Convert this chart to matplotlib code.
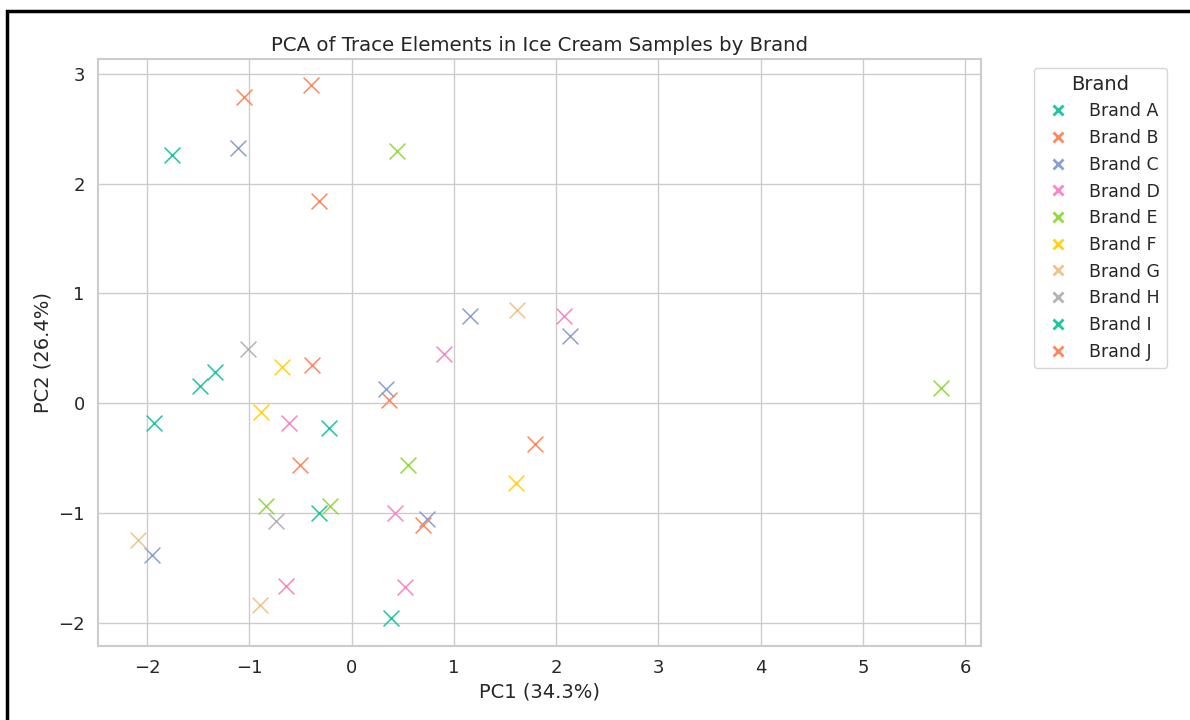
import matplotlib
matplotlib.use("Agg")
import matplotlib.pyplot as plt
import seaborn as sns
from matplotlib.patches import Rectangle

sns.set_theme(style="whitegrid")
plt.rcParams["font.family"] = ["DejaVu Sans"]

brands = ["Brand A", "Brand B", "Brand C", "Brand D", "Brand E",
          "Brand F", "Brand G", "Brand H", "Brand I", "Brand J"]

pc1 = {
    "Brand A": [-1.76, -1.34, -0.22, 0.39],
    "Brand B": [-1.05, -0.32, 0.37, 1.79],
    "Brand C": [-1.11, 1.16, 2.14, 0.34, 0.74, -1.95],
    "Brand D": [0.90, 2.08, -0.61, 0.42, -0.64, 0.52],
    "Brand E": [0.44, 5.76, 0.55, -0.84, -0.21],
    "Brand F": [-0.68, -0.89, 1.61],
    "Brand G": [1.62, -2.09, -0.90],
    "Brand H": [-1.01, -0.74],
    "Brand I": [-1.48, -1.93, -0.32],
    "Brand J": [-0.40, -0.39, -0.50, 0.70],
}
pc2 = {
    "Brand A": [2.26, 0.285, -0.23, -1.96],
    "Brand B": [2.79, 1.84, 0.03, -0.37],
    "Brand C": [2.32, 0.79, 0.61, 0.13, -1.06, -1.385],
    "Brand D": [0.45, 0.79, -0.18, -1.00, -1.67, -1.68],
    "Brand E": [2.30, 0.14, -0.56, -0.94, -0.935],
    "Brand F": [0.33, -0.08, -0.73],
    "Brand G": [0.85, -1.25, -1.84],
    "Brand H": [0.49, -1.07],
    "Brand I": [0.155, -0.18, -1.00],
    "Brand J": [2.90, 0.35, -0.565, -1.11],
}

base = ["#1fc4a0", "#ff875c", "#8a9fd4", "#fb84c6", "#94d940",
        "#ffd21c", "#eec48c", "#b3b3b3"]
colors = [base[i % len(base)] for i in range(len(brands))]

fig = plt.figure(figsize=(11.9, 7.2), dpi=100)
ax = fig.add_axes([0.0824, 0.1028, 0.742, 0.815])

for b, c in zip(brands, colors):
    ax.scatter(pc1[b], pc2[b], marker="x", s=130, color=c, linewidths=1.1, label=b)

ax.set_xlim(-2.48, 6.156)
ax.set_ylim(-2.213, 3.133)
ax.set_title("PCA of Trace Elements in Ice Cream Samples by Brand", fontsize=14.2)
ax.set_xlabel("PC1 (34.3%)", fontsize=14)
ax.set_ylabel("PC2 (26.4%)", fontsize=14)
ax.tick_params(labelsize=13)
for s in ax.spines.values():
    s.set_edgecolor("#cccccc")
    s.set_linewidth(1.5)

handles = [plt.Line2D([], [], marker="x", linestyle="", color=c, markersize=7,
                      markeredgewidth=2) for c in colors]
leg = ax.legend(handles, brands, title="Brand", loc="upper left",
                bbox_to_anchor=(1.05, 1.0), fontsize=12.5, title_fontsize=14,
                handletextpad=0.8, labelspacing=0.5)

fig.patches.append(Rectangle((7 / 1190, -0.1), 1.2, 1.1 - 11 / 720,
                             transform=fig.transFigure, fill=False,
                             edgecolor="black", linewidth=2.5))

fig.savefig("out.png", dpi=100)
